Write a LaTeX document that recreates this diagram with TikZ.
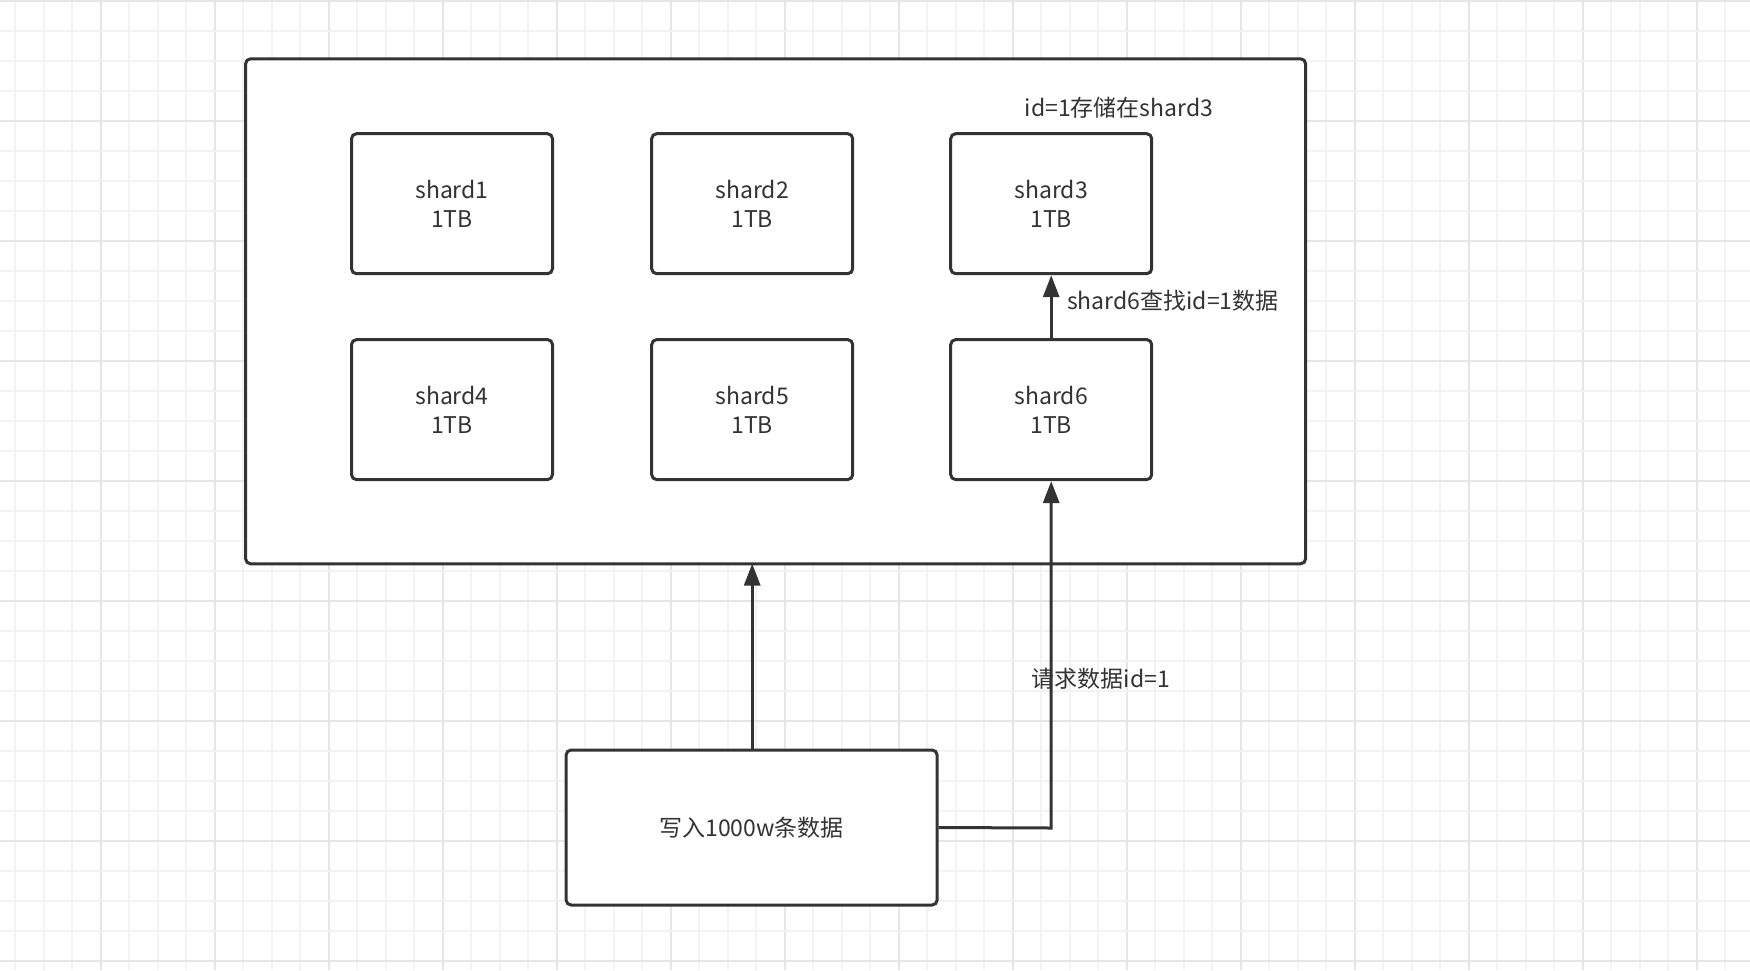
\documentclass[tikz,border=0pt]{standalone}
\usepackage{fontspec}
\setmainfont{Noto Sans CJK SC}
\usetikzlibrary{arrows.meta}
\definecolor{ink}{HTML}{333333}
\definecolor{gridminor}{HTML}{F3F3F3}
\definecolor{gridmajor}{HTML}{E6E6E6}
\begin{document}
\begin{tikzpicture}[x=1pt,y=-1pt,
  box/.style={draw=ink,line width=3pt,rounded corners=5pt,fill=white,align=center,
    font=\fontsize{23}{29}\selectfont,text=ink,inner sep=0pt},
  arr/.style={draw=ink,line width=3pt,-{Triangle[length=22pt,width=16pt]}},
  lbl/.style={font=\fontsize{23}{29}\selectfont,text=ink,fill=white,inner sep=1pt}]
\useasboundingbox (0,0) rectangle (1750,970);
\fill[white] (0,0) rectangle (1750,970);
% grid
\foreach \i in {0,...,61}{
  \pgfmathsetmacro\gx{15.2+28.5*\i}
  \pgfmathtruncatemacro\m{mod(\i,4)==3}
  \ifnum\m=1 \draw[gridmajor,line width=2pt] (\gx,0) -- (\gx,970);
  \else \draw[gridminor,line width=2pt] (\gx,0) -- (\gx,970); \fi}
\foreach \j in {0,...,32}{
  \pgfmathsetmacro\gy{0.7+30*\j}
  \pgfmathtruncatemacro\m{mod(\j,4)==0}
  \ifnum\m=1 \draw[gridmajor,line width=2pt] (0,\gy) -- (1750,\gy);
  \else \draw[gridminor,line width=2pt] (0,\gy) -- (1750,\gy); \fi}
% outer container
\node[box,minimum width=1060pt,minimum height=505pt] (outer) at (775.6,311.3) {};
\foreach \n/\x/\y in {1/452/203.7,2/752.2/203.7,3/1051.2/203.7,4/452/409.6,5/752.2/409.6,6/1051.2/409.6}
  \node[box,minimum width=201pt,minimum height=140pt] (s\n) at (\x,\y) {shard\n\\1TB};
\node[box,minimum width=371pt,minimum height=155pt] (w) at (751.6,827.5) {写入1000w条数据};
\coordinate (wt) at (752.2,750);
\coordinate (ob) at (752.2,563.6);
\coordinate (turn) at (1051.2,828);
\draw[arr] (wt) -- (ob);
\draw[arr] (w.east) -- (turn) -- (s6.south);
\draw[arr] (s6.north) -- (s3.south);
\node[lbl,fill=none] (l1) at (1119,108) {id=1存储在shard3};
\node[lbl,fill=none,anchor=west] (l2) at (1066,301) {shard6查找id=1数据};
\node[lbl,fill=none] (l3) at (1101,679) {请求数据id=1};
\end{tikzpicture}
\end{document}
